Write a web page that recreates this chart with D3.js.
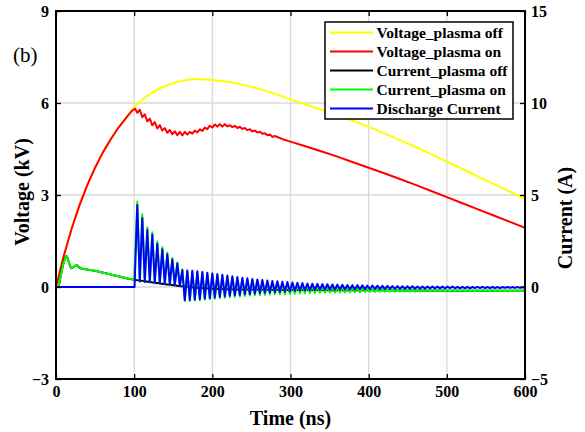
<!DOCTYPE html>
<meta charset="utf-8">
<style>
body { margin: 0; background: #fff; }
svg { display: block; }
text { font-family: "Liberation Serif", "Times New Roman", serif; }
.axis text { font-size: 16px; font-weight: bold; fill: #000; }
.axis line { stroke: #000; stroke-width: 1.3px; }
.grid line { stroke: #d9d9d9; stroke-width: 1.3px; }
.title { font-size: 20px; font-weight: bold; }
.legend text { font-size: 15.5px; font-weight: bold; }
</style>
<svg width="585" height="432"></svg>
<script src="https://d3js.org/d3.v7.min.js"></script>
<script>

// axis ticks
var xTicks = [0, 100, 200, 300, 400, 500, 600];
var vTicks = [-3, 0, 3, 6, 9];
var iTicks = [-5, 0, 5, 10, 15];

// Voltage_plasma off (kV)
var voltOff = [[0,0],[10,1.02],[20,1.9],[30,2.66],[40,3.32],[50,3.89],[60,4.39],[70,4.82],[80,5.2],[90,5.53],
  [100,5.86],[110,6.1],[120,6.29],[130,6.44],[140,6.56],[150,6.65],[160,6.72],[170,6.76],[180,6.78],[190,6.77],
  [200,6.75],[220,6.69],[240,6.59],[260,6.46],[280,6.3],[300,6.12],[320,5.95],[340,5.78],[360,5.6],[380,5.42],
  [400,5.22],[420,5.01],[440,4.79],[460,4.56],[480,4.33],[500,4.09],[520,3.85],[540,3.6],[560,3.36],[580,3.12],[600,2.88]];

// Voltage_plasma on (kV): rise, ripple (on ringT), fall
var redRise = [[0,0],[10,1.02],[20,1.9],[30,2.66],[40,3.32],[50,3.89],[60,4.39],[70,4.82],[80,5.2],[90,5.52],[97,5.74],[101,5.82]];
var redRing = [5.68,5.78,5.54,5.63,5.40,5.49,5.27,5.38,5.17,5.28,
  5.10,5.18,5.03,5.12,4.98,5.08,4.95,5.06,4.94,5.06,
  4.97,5.06,5.00,5.10,5.04,5.14,5.09,5.20,5.15,5.26,
  5.20,5.30,5.23,5.31,5.23,5.31,5.235,5.275,5.215,5.255,
  5.185,5.225,5.155,5.185,5.115,5.145,5.075,5.105,5.035,5.065,
  4.995,5.015,4.945,4.975,4.895,4.925];
var redFall = [[290,4.82],[300,4.74],[320,4.58],[340,4.42],[360,4.25],[380,4.07],[400,3.89],[420,3.71],[440,3.52],
  [460,3.33],[480,3.13],[500,2.93],[520,2.73],[540,2.53],[560,2.33],[580,2.13],[600,1.93]];

// Current_plasma off (A)
var curOff = [[0,0],[3,0],[6,0.6],[9,1.2],[12,1.6],[13.6,1.68],[16,1.4],[18,1.15],[20,1.02],[23,1.1],[26.4,1.2],
  [29,1.08],[33,1.0],[40,0.95],[50,0.88],[60,0.78],[70,0.68],[80,0.58],[90,0.48],[100,0.4],[120,0.27],[140,0.15],
  [160,0.04],[180,-0.04],[200,-0.09],[250,-0.14],[300,-0.16],[400,-0.18],[500,-0.2],[600,-0.21]];

// Current_plasma on (A), before breakdown
var greenPre = [[0,0],[3,0],[6,0.6],[9,1.2],[12,1.6],[13.6,1.68],[16,1.4],[18,1.15],[20,1.02],[23,1.1],[26.4,1.2],
  [29,1.08],[33,1.0],[40,0.95],[50,0.88],[60,0.78],[70,0.68],[80,0.58],[90,0.48],[100,0.4]];

// Discharge Current (A), before breakdown
var bluePre = [[0,0],[100.5,0]];

// times of the ringing extrema (ns)
var ringT = [104,107.2,110.4,113.6,116.8,120,123.2,126.4,129.6,132.8,
  136,139.2,142.4,145.6,148.8,152,155.2,158.4,161.6,164.8,
  168,171.2,174.4,177.6,180.8,184,187.2,190.4,193.6,196.8,
  200,203.2,206.4,209.6,212.8,216,219.2,222.4,225.6,228.8,
  232,235.2,238.4,241.6,244.8,248,251.2,254.4,257.6,260.8,
  264,267.2,270.4,273.6,276.8,280,283.2,286.4,289.6,292.8,
  296,299.2,302.4,305.6,308.8,312,315.2,318.4,321.6,324.8,
  328,331.2,334.4,337.6,340.8,344,347.2,350.4,353.6,356.8,
  360,363.2,366.4,369.6,372.8,376,379.2,382.4,385.6,388.8,
  392,395.2,398.4,401.6,404.8,408,411.2,414.4,417.6,420.8,
  424,427.2,430.4,433.6,436.8,440,443.2,446.4,449.6,452.8,
  456,459.2,462.4,465.6,468.8,472,475.2,478.4,481.6,484.8,
  488,491.2,494.4,497.6,500.8,504,507.2,510.4,513.6,516.8,
  520,523.2,526.4,529.6,532.8,536,539.2,542.4,545.6,548.8,
  552,555.2,558.4,561.6,564.8,568,571.2,574.4,577.6,580.8,
  584,587.2,590.4,593.6,596.8,600];

var blueRing = [4.45,0.3,3.75,0.28,3.1,0.26,2.85,0.23,2.35,0.2,
  2.05,0.17,1.78,0.14,1.5,0.1,1.28,0.05,0.92,-0.72,
  0.9,-0.7,0.88,-0.68,0.85,-0.66,0.82,-0.63,0.78,-0.6,
  0.74,-0.57,0.7,-0.54,0.66,-0.51,0.62,-0.48,0.58,-0.45,
  0.54,-0.43,0.5,-0.4,0.47,-0.38,0.44,-0.36,0.41,-0.34,
  0.38,-0.32,0.35,-0.3,0.33,-0.28,0.31,-0.27,0.29,-0.26,
  0.27,-0.24,0.25,-0.22,0.23,-0.2,0.21,-0.19,0.19,-0.18,
  0.18,-0.17,0.17,-0.16,0.16,-0.16,0.15,-0.15,0.14,-0.15,
  0.13,-0.14,0.12,-0.14,0.11,-0.13,0.1,-0.13,0.1,-0.12,
  0.09,-0.12,0.08,-0.12,0.08,-0.11,0.07,-0.11,0.06,-0.11,
  0.06,-0.1,0.05,-0.1,0.05,-0.1,0.04,-0.1,0.04,-0.09,
  0.04,-0.09,0.03,-0.09,0.03,-0.09,0.03,-0.08,0.02,-0.08,
  0.02,-0.08,0.02,-0.08,0.02,-0.07,0.02,-0.07,0.01,-0.07,
  0.01,-0.07,0.01,-0.07,0.01,-0.06,0.01,-0.06,0.01,-0.06,
  0,-0.06,0,-0.06,0,-0.06,0,-0.05,0,-0.05,
  0,-0.05,0,-0.05,0,-0.05];

var greenRing = [4.65,0.3,3.95,0.28,3.25,0.26,2.98,0.23,2.48,0.2,
  2.17,0.17,1.88,0.14,1.58,0.1,1.34,0.05,0.95,-0.75,
  0.86,-0.76,0.84,-0.74,0.81,-0.72,0.78,-0.69,0.74,-0.66,
  0.69,-0.64,0.65,-0.61,0.61,-0.58,0.56,-0.56,0.52,-0.53,
  0.47,-0.52,0.43,-0.49,0.4,-0.47,0.36,-0.45,0.33,-0.44,
  0.29,-0.43,0.26,-0.41,0.24,-0.4,0.21,-0.39,0.19,-0.39,
  0.16,-0.38,0.13,-0.36,0.1,-0.35,0.08,-0.34,0.06,-0.33,
  0.04,-0.32,0.02,-0.31,0.01,-0.3,0,-0.3,-0.01,-0.3,
  -0.03,-0.29,-0.04,-0.29,-0.05,-0.28,-0.06,-0.28,-0.07,-0.28,
  -0.08,-0.27,-0.09,-0.27,-0.1,-0.27,-0.1,-0.26,-0.11,-0.26,
  -0.12,-0.26,-0.12,-0.26,-0.13,-0.25,-0.13,-0.25,-0.14,-0.25,
  -0.14,-0.25,-0.15,-0.25,-0.15,-0.24,-0.15,-0.24,-0.16,-0.24,
  -0.16,-0.24,-0.16,-0.24,-0.17,-0.24,-0.17,-0.23,-0.17,-0.23,
  -0.17,-0.23,-0.18,-0.23,-0.18,-0.23,-0.18,-0.23,-0.18,-0.22,
  -0.18,-0.22,-0.18,-0.22,-0.19,-0.22,-0.19,-0.22,-0.19,-0.22,
  -0.19,-0.22,-0.19,-0.22,-0.19,-0.21];

var legendNames = ["Voltage_plasma off", "Voltage_plasma on", "Current_plasma off", "Current_plasma on", "Discharge Current"];
var legendColors = ["#ffff00", "#ff0000", "#000000", "#00ff00", "#0000ff"];

var svg = d3.select("svg");
var plotL = 56, plotR = 525, plotT = 11, plotB = 379;

var x = d3.scaleLinear().domain([0, 600]).range([plotL, plotR]);
var yV = d3.scaleLinear().domain([-3, 9]).range([plotB, plotT]);
var yI = d3.scaleLinear().domain([-5, 15]).range([plotB, plotT]);

// grid
var grid = svg.append("g").attr("class", "grid");
grid.selectAll(".gx").data(xTicks.slice(1, -1)).enter().append("line")
    .attr("x1", d => x(d)).attr("x2", d => x(d)).attr("y1", plotT).attr("y2", plotB);
grid.selectAll(".gy").data(vTicks.slice(1, -1)).enter().append("line")
    .attr("y1", d => yV(d)).attr("y2", d => yV(d)).attr("x1", plotL).attr("x2", plotR);

svg.append("clipPath").attr("id", "clip").append("rect")
    .attr("x", plotL).attr("y", plotT).attr("width", plotR - plotL).attr("height", plotB - plotT);

var plot = svg.append("g").attr("clip-path", "url(#clip)");

var lineV = d3.line().x(d => x(d[0])).y(d => yV(d[1]));
var lineI = d3.line().x(d => x(d[0])).y(d => yI(d[1]));
var smoothV = d3.line().curve(d3.curveMonotoneX).x(d => x(d[0])).y(d => yV(d[1]));
var smoothI = d3.line().curve(d3.curveMonotoneX).x(d => x(d[0])).y(d => yI(d[1]));

var redOn = redRise.concat(redRing.map((v, i) => [ringT[i], v]), redFall);
var greenOn = greenPre.concat(ringT.map((t, i) => [t, greenRing[i]]));
var blueDis = bluePre.concat(ringT.map((t, i) => [t, blueRing[i]]));

function draw(data, gen, color) {
  plot.append("path").datum(data)
      .attr("d", gen)
      .attr("fill", "none")
      .attr("stroke", color)
      .attr("stroke-width", 2)
      .attr("stroke-linejoin", "round");
}

draw(voltOff, smoothV, legendColors[0]);
draw(redOn, lineV, legendColors[1]);
draw(curOff, smoothI, legendColors[2]);
draw(greenOn, lineI, legendColors[3]);
draw(blueDis, lineI, legendColors[4]);

// axes, ticks pointing inward
svg.append("g").attr("class", "axis").attr("transform", "translate(0," + plotB + ")")
    .call(d3.axisBottom(x).tickValues(xTicks).tickSize(-5).tickPadding(7))
    .call(g => g.select(".domain").remove());
svg.append("g").attr("class", "axis").attr("transform", "translate(0," + plotT + ")")
    .call(d3.axisTop(x).tickValues(xTicks).tickSize(-5).tickFormat(""))
    .call(g => g.select(".domain").remove());
svg.append("g").attr("class", "axis").attr("transform", "translate(" + plotL + ",0)")
    .call(d3.axisLeft(yV).tickValues(vTicks).tickSize(-5).tickPadding(7))
    .call(g => g.select(".domain").remove());
svg.append("g").attr("class", "axis").attr("transform", "translate(" + plotR + ",0)")
    .call(d3.axisRight(yI).tickValues(iTicks).tickSize(-5).tickPadding(6))
    .call(g => g.select(".domain").remove());

svg.append("rect")
    .attr("x", plotL).attr("y", plotT).attr("width", plotR - plotL).attr("height", plotB - plotT)
    .attr("fill", "none").attr("stroke", "#000").attr("stroke-width", 2);

// titles
svg.append("text").attr("class", "title")
    .attr("x", (plotL + plotR) / 2).attr("y", 425).attr("text-anchor", "middle")
    .text("Time (ns)");
svg.append("text").attr("class", "title")
    .attr("transform", "translate(29,192) rotate(-90)").attr("text-anchor", "middle")
    .text("Voltage (kV)");
svg.append("text").attr("class", "title")
    .attr("transform", "translate(572,218) rotate(-90)").attr("text-anchor", "middle")
    .text("Current (A)");
svg.append("text")
    .attr("x", 13).attr("y", 62).attr("font-size", 21)
    .text("(b)");

// legend
var lg = svg.append("g").attr("class", "legend");
lg.append("rect").attr("x", 325).attr("y", 22).attr("width", 188).attr("height", 97)
    .attr("fill", "#fff").attr("stroke", "#000").attr("stroke-width", 1.5);
var item = lg.selectAll(".item").data(legendNames).enter().append("g")
    .attr("transform", (d, i) => "translate(0," + (32.5 + i * 19) + ")");
item.append("line").attr("x1", 330).attr("x2", 373)
    .attr("stroke", (d, i) => legendColors[i]).attr("stroke-width", 2);
item.append("text").attr("x", 376.5).attr("dy", "0.35em").text(d => d);

</script>
